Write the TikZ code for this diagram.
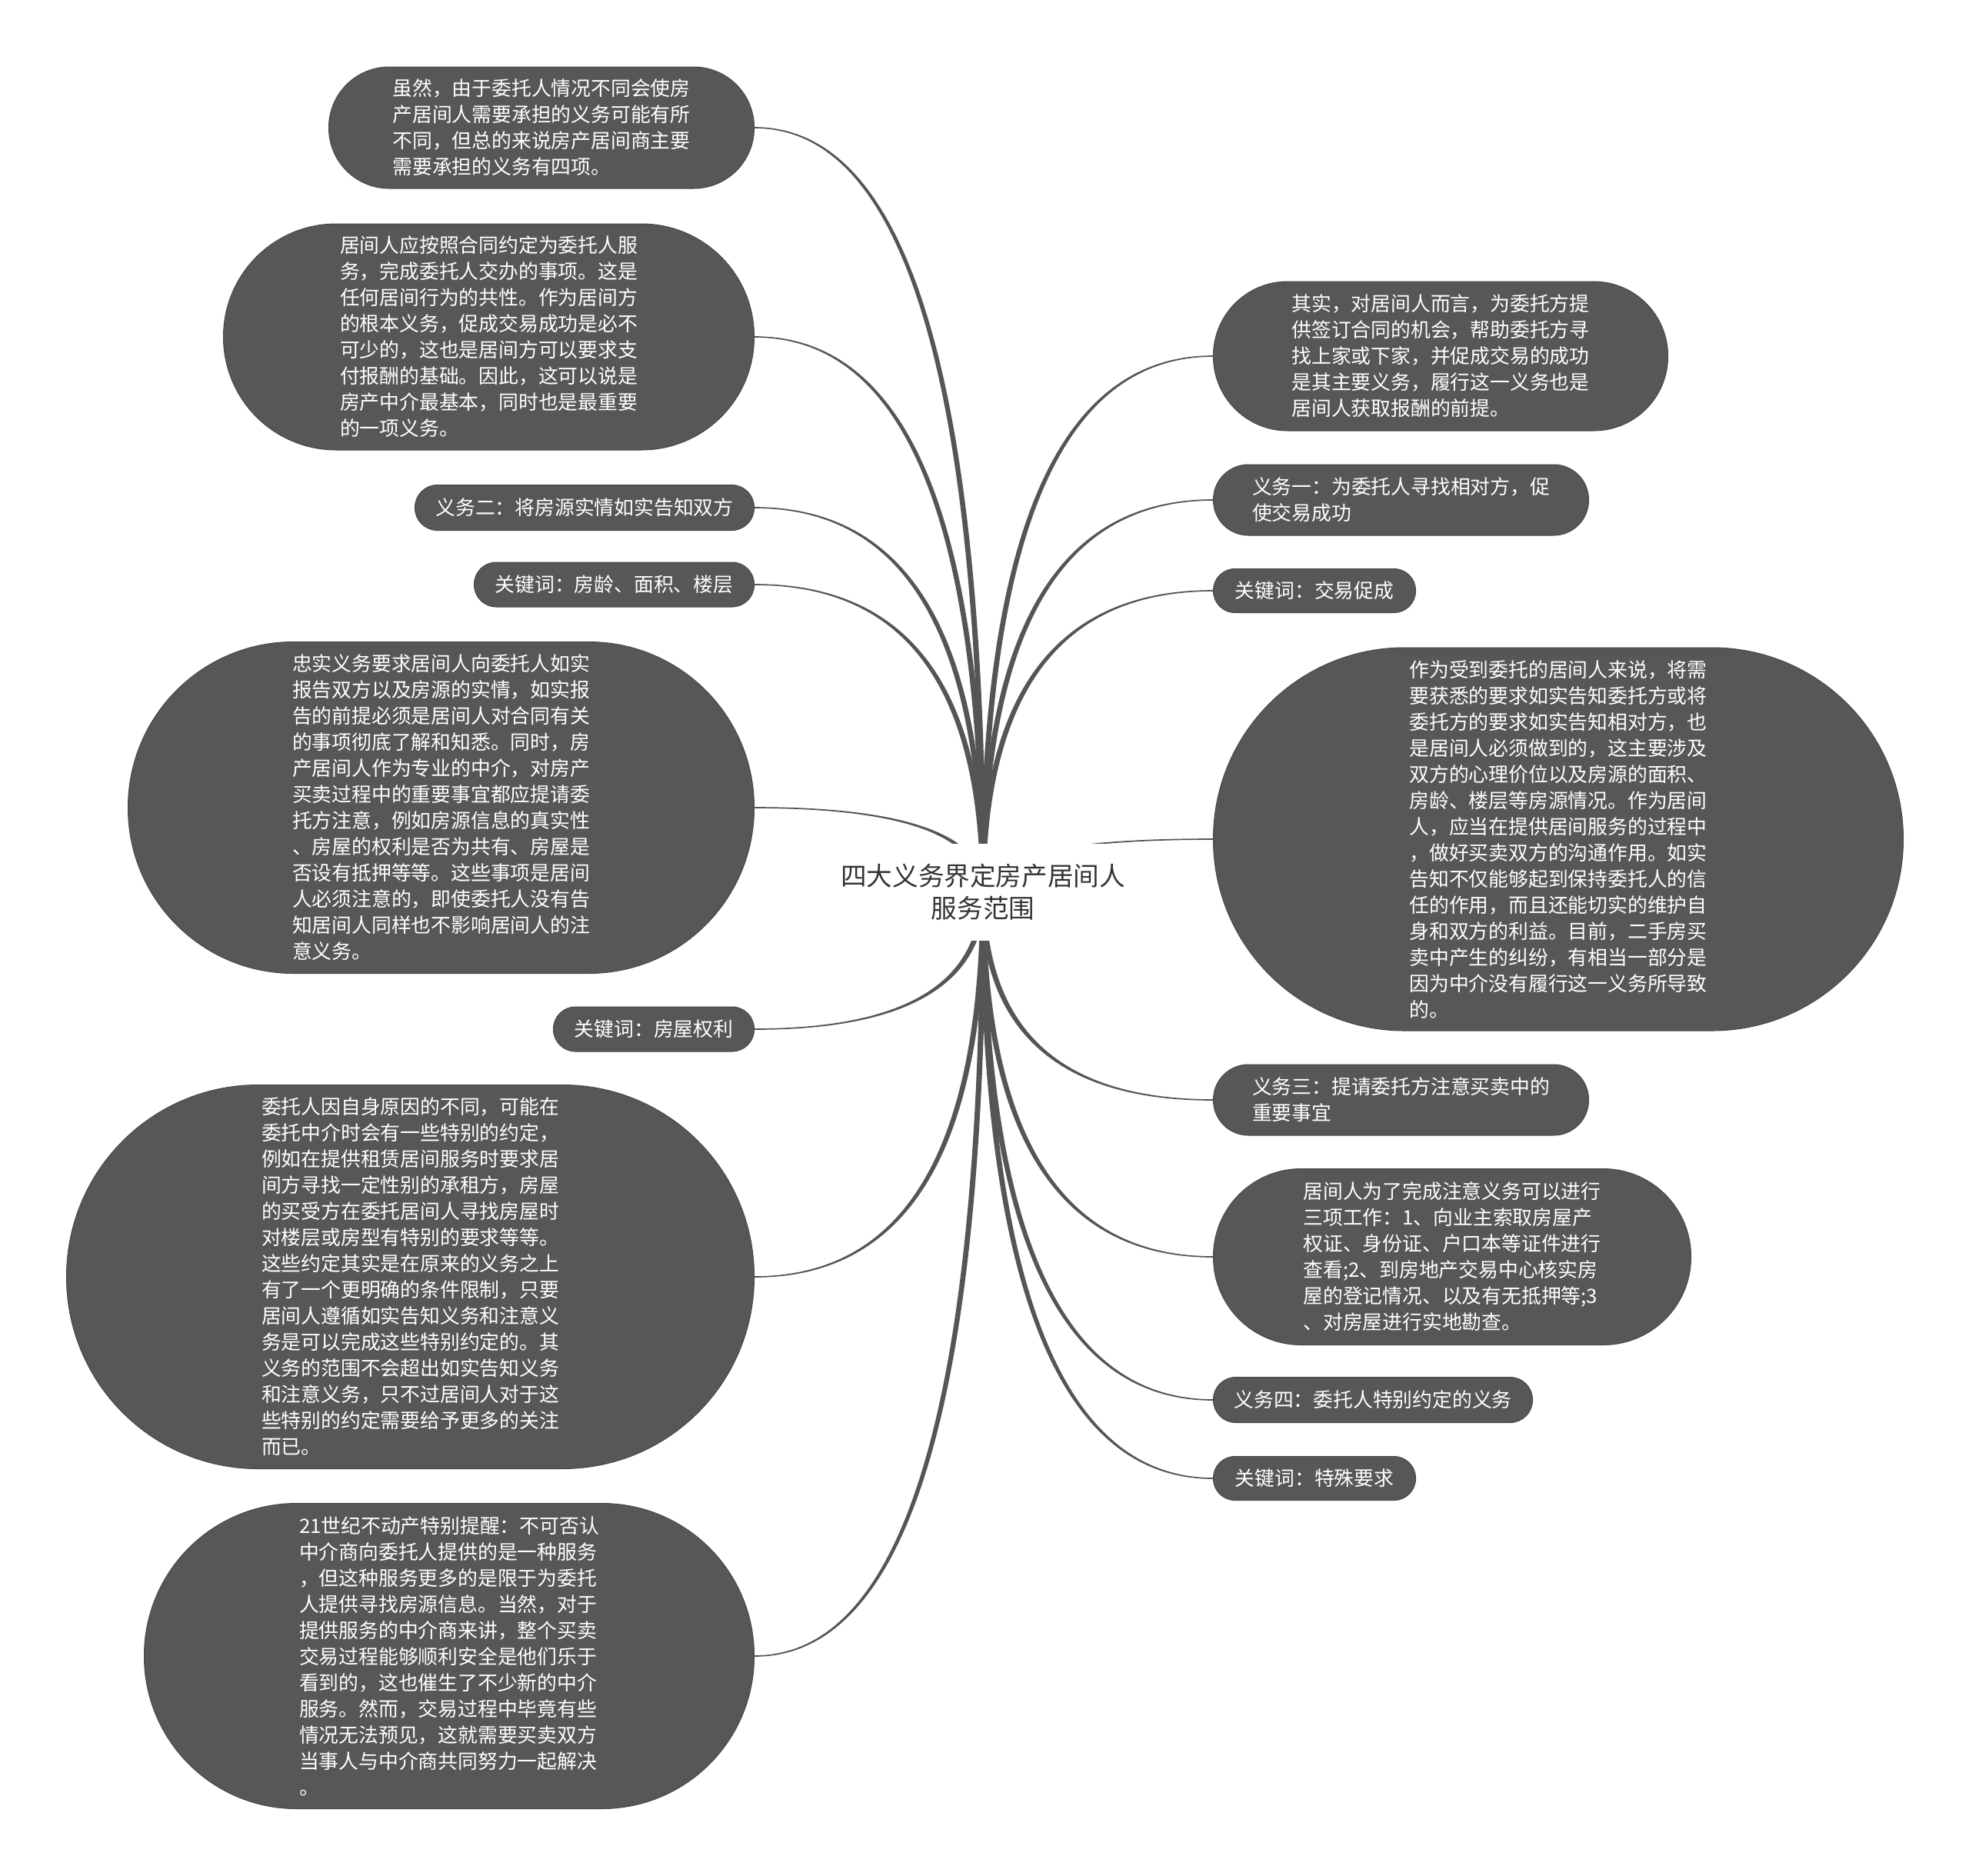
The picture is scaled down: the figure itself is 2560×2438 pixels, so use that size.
\documentclass[tikz,border=0pt]{standalone}
\usepackage{fontspec}
\setmainfont{Noto Sans CJK SC}
\usetikzlibrary{calc,backgrounds}
\definecolor{boxfill}{HTML}{575757}
\definecolor{boxline}{HTML}{484848}
\definecolor{linkcol}{HTML}{555555}
\definecolor{titlecol}{HTML}{333333}
\newcommand\linkto[2]{%
 \fill[linkcol] let \p1=(ctr.center), \p2=(#1) in
 (\x1-1.8pt,\y1) .. controls (\x1-1.8pt,{\y1+2/3*(\y2-(#2)*0.42pt-\y1)}) and ({\x2+2/3*(\x1-1.8pt-\x2)},{\y2-(#2)*0.42pt}) .. (\x2,{\y2-(#2)*0.42pt})
 -- (\x2,{\y2+(#2)*0.42pt}) .. controls ({\x2+2/3*(\x1+1.8pt-\x2)},{\y2+(#2)*0.42pt}) and (\x1+1.8pt,{\y1+2/3*(\y2+(#2)*0.42pt-\y1)}) .. (\x1+1.8pt,\y1) -- cycle;}
\tikzset{
 ubox/.style 2 args={shape=rectangle, fill=boxfill, draw=boxline, line width=0.5pt,
   text=white, align=left, inner sep=0pt, minimum width=#1, minimum height=#2,
   rounded corners={(#2)/2-0.2pt}, font=\fontsize{12.9pt}{17pt}\selectfont},
}
\begin{document}
\begin{tikzpicture}[x=0.5pt,y=-0.5pt]
\useasboundingbox (0,0) rectangle (2560,2438);
\begin{pgfonlayer}{background}
\fill[white] (0,0) rectangle (2560,2438);
\end{pgfonlayer}

% central topic
\node[fill=white, minimum width=200pt, minimum height=63pt, inner sep=0pt, align=center,
  text=titlecol, font=\fontsize{16.8pt}{21pt}\selectfont] (ctr) at (1278,1160)
  {四大义务界定房产居间人\\服务范围};

% left side
\node[ubox={276.5pt}{79pt}, anchor=east] (L1) at (981,166)
 {虽然，由于委托人情况不同会使房\\产居间人需要承担的义务可能有所\\不同，但总的来说房产居间商主要\\需要承担的义务有四项。};
\node[ubox={345pt}{147pt}, anchor=east] (L2) at (981,438)
 {居间人应按照合同约定为委托人服\\务，完成委托人交办的事项。这是\\任何居间行为的共性。作为居间方\\的根本义务，促成交易成功是必不\\可少的，这也是居间方可以要求支\\付报酬的基础。因此，这可以说是\\房产中介最基本，同时也是最重要\\的一项义务。};
\node[ubox={220.5pt}{29.5pt}, anchor=east] (L3) at (981,660)
 {义务二：将房源实情如实告知双方};
\node[ubox={182pt}{29pt}, anchor=east] (L4) at (981,760)
 {关键词：房龄、面积、楼层};
\node[ubox={407pt}{215.5pt}, anchor=east] (L5) at (981,1050)
 {忠实义务要求居间人向委托人如实\\报告双方以及房源的实情，如实报\\告的前提必须是居间人对合同有关\\的事项彻底了解和知悉。同时，房\\产居间人作为专业的中介，对房产\\买卖过程中的重要事宜都应提请委\\托方注意，例如房源信息的真实性\\、房屋的权利是否为共有、房屋是\\否设有抵押等等。这些事项是居间\\人必须注意的，即使委托人没有告\\知居间人同样也不影响居间人的注\\意义务。};
\node[ubox={130.5pt}{29pt}, anchor=east] (L6) at (981,1338)
 {关键词：房屋权利};
\node[ubox={447pt}{249.5pt}, anchor=east] (L7) at (981,1660)
 {委托人因自身原因的不同，可能在\\委托中介时会有一些特别的约定，\\例如在提供租赁居间服务时要求居\\间方寻找一定性别的承租方，房屋\\的买受方在委托居间人寻找房屋时\\对楼层或房型有特别的要求等等。\\这些约定其实是在原来的义务之上\\有了一个更明确的条件限制，只要\\居间人遵循如实告知义务和注意义\\务是可以完成这些特别约定的。其\\义务的范围不会超出如实告知义务\\和注意义务，只不过居间人对于这\\些特别的约定需要给予更多的关注\\而已。};
\node[ubox={396.5pt}{198.5pt}, anchor=east] (L8) at (981,2153)
 {21世纪不动产特别提醒：不可否认\\中介商向委托人提供的是一种服务\\，但这种服务更多的是限于为委托\\人提供寻找房源信息。当然，对于\\提供服务的中介商来讲，整个买卖\\交易过程能够顺利安全是他们乐于\\看到的，这也催生了不少新的中介\\服务。然而，交易过程中毕竟有些\\情况无法预见，这就需要买卖双方\\当事人与中介商共同努力一起解决\\。};

% right side
\node[ubox={295.5pt}{97pt}, anchor=west] (R1) at (1577,463)
 {其实，对居间人而言，为委托方提\\供签订合同的机会，帮助委托方寻\\找上家或下家，并促成交易的成功\\是其主要义务，履行这一义务也是\\居间人获取报酬的前提。};
\node[ubox={244pt}{46pt}, anchor=west] (R2) at (1577,650)
 {义务一：为委托人寻找相对方，促\\使交易成功};
\node[ubox={131.5pt}{28.5pt}, anchor=west] (R3) at (1577,768)
 {关键词：交易促成};
\node[ubox={448.5pt}{249pt}, anchor=west] (R4) at (1577,1091)
 {作为受到委托的居间人来说，将需\\要获悉的要求如实告知委托方或将\\委托方的要求如实告知相对方，也\\是居间人必须做到的，这主要涉及\\双方的心理价位以及房源的面积、\\房龄、楼层等房源情况。作为居间\\人，应当在提供居间服务的过程中\\，做好买卖双方的沟通作用。如实\\告知不仅能够起到保持委托人的信\\任的作用，而且还能切实的维护自\\身和双方的利益。目前，二手房买\\卖中产生的纠纷，有相当一部分是\\因为中介没有履行这一义务所导致\\的。};
\node[ubox={244pt}{46pt}, anchor=west] (R5) at (1577,1430)
 {义务三：提请委托方注意买卖中的\\重要事宜};
\node[ubox={310.5pt}{114.5pt}, anchor=west] (R6) at (1577,1634)
 {居间人为了完成注意义务可以进行\\三项工作：1、向业主索取房屋产\\权证、身份证、户口本等证件进行\\查看;2、到房地产交易中心核实房\\屋的登记情况、以及有无抵押等;3\\、对房屋进行实地勘查。};
\node[ubox={207.5pt}{29.5pt}, anchor=west] (R7) at (1577,1820)
 {义务四：委托人特别约定的义务};
\node[ubox={131.5pt}{28.5pt}, anchor=west] (R8) at (1577,1922)
 {关键词：特殊要求};

% connectors (tapered, behind the nodes)
\begin{pgfonlayer}{background}
\linkto{L1.east}{1}
\linkto{L2.east}{1}
\linkto{L3.east}{1}
\linkto{L4.east}{1}
\linkto{L5.east}{1}
\linkto{L6.east}{-1}
\linkto{L7.east}{-1}
\linkto{L8.east}{-1}
\linkto{R1.west}{-1}
\linkto{R2.west}{-1}
\linkto{R3.west}{-1}
\linkto{R4.west}{-1}
\linkto{R5.west}{1}
\linkto{R6.west}{1}
\linkto{R7.west}{1}
\linkto{R8.west}{1}
\end{pgfonlayer}
\end{tikzpicture}
\end{document}
